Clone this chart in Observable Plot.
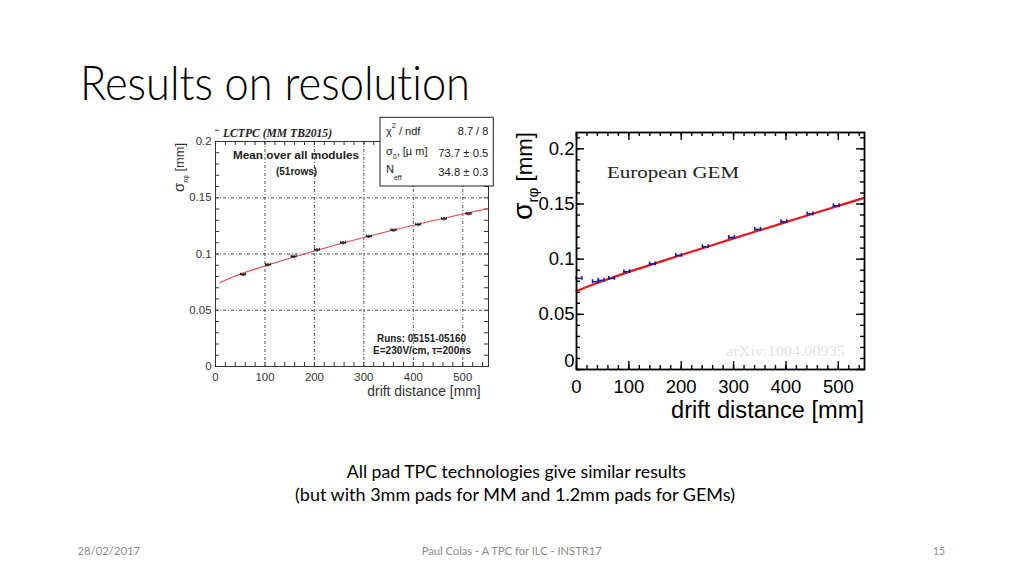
<!DOCTYPE html>
<html><head><meta charset="utf-8">
<script src="https://cdn.jsdelivr.net/npm/d3@7"></script>
<script src="https://cdn.jsdelivr.net/npm/@observablehq/plot@0.6"></script>
<style>
html,body{margin:0;padding:0;background:#fff;}
#slide{position:relative;width:1024px;height:576px;overflow:hidden;background:#fff;}
#left{position:absolute;left:160px;top:110px;}
#right{position:absolute;left:500px;top:120px;}
#overlay{position:absolute;left:0;top:0;font-variant-ligatures:none;}
</style></head><body>
<div id="slide"><div id="left"></div><div id="right"></div><svg id="overlay" width="1024" height="576"></svg></div>
<script>
// ---------- Left panel: LCTPC Micromegas (MM TB2015) ----------
const mmDrift    = [56, 106, 158, 205, 258, 310, 360, 410, 462, 512];
const mmSigma    = [0.0818, 0.0904, 0.0978, 0.1037, 0.1100, 0.1156, 0.1212, 0.1262, 0.1313, 0.1357];
const mmDriftErr = [5, 5, 5, 5, 5, 5, 5, 5, 5, 5];
const mmSigmaErr = [0.0012, 0.0012, 0.0012, 0.0012, 0.0012, 0.0012, 0.0012, 0.0012, 0.0012, 0.0012];
const mmFitDrift = [9, 50, 100, 150, 200, 250, 300, 350, 400, 450, 500, 552];
const mmFitSigma = [0.0746, 0.0822, 0.0893, 0.0962, 0.1027, 0.1089, 0.1147, 0.1203, 0.1256, 0.1307, 0.1356, 0.1405];
const mmTicksX   = [0, 100, 200, 300, 400, 500];
const mmTicksY   = [0, 0.05, 0.1, 0.15, 0.2];
const mmGridX    = [100, 200, 300, 400, 500];
const mmGridY    = [0.05, 0.1, 0.15];

// ---------- Right panel: European GEM ----------
const gemDrift    = [5, 36, 47, 67, 96, 145, 195, 246, 296, 346, 396, 446, 496];
const gemSigma    = [0.0826, 0.0796, 0.0808, 0.0826, 0.0887, 0.0957, 0.1034, 0.1113, 0.1197, 0.1270, 0.1340, 0.1410, 0.1484];
const gemDriftErr = [5.5, 5.5, 5.5, 5.5, 5.5, 5.5, 5.5, 5.5, 5.5, 5.5, 5.5, 5.5, 5.5];
const gemSigmaErr = [0.0018, 0.0018, 0.0018, 0.0018, 0.0018, 0.0018, 0.0018, 0.0018, 0.0018, 0.0018, 0.0018, 0.0018, 0.0018];
const gemFitDrift = [0, 50, 100, 150, 200, 250, 300, 350, 400, 450, 500, 548];
const gemFitSigma = [0.0712, 0.0802, 0.0885, 0.0962, 0.1038, 0.1113, 0.1188, 0.1262, 0.1336, 0.1410, 0.1483, 0.1554];
const gemTicksX   = [0, 100, 200, 300, 400, 500];
const gemTicksY   = [0.05, 0.1, 0.15, 0.2];
const gemTickZero = [0];

const minorXTicks = d3.range(0, 560, 20);
const minorYTicks = d3.range(0, 0.2151, 0.01);

const mmPts  = mmDrift.map((x, i) => ({x, y: mmSigma[i], ex: mmDriftErr[i], ey: mmSigmaErr[i]}));
const mmFit  = mmFitDrift.map((x, i) => ({x, y: mmFitSigma[i]}));
const gemPts = gemDrift.map((x, i) => ({x, y: gemSigma[i], ex: gemDriftErr[i], ey: gemSigmaErr[i]}));
const gemFit = gemFitDrift.map((x, i) => ({x, y: gemFitSigma[i]}));

function frameTicks(xs, ys, plotW, plotH, len, st) {
  return [
    Plot.ruleX(xs, {x: d => d, insetTop: plotH - len, ...st}),
    Plot.ruleX(xs, {x: d => d, insetBottom: plotH - len, ...st}),
    Plot.ruleY(ys, {y: d => d, insetRight: plotW - len, ...st}),
    Plot.ruleY(ys, {y: d => d, insetLeft: plotW - len, ...st})
  ];
}

// Left plot
{
  const W = 340, H = 300, mL = 55, mR = 12, mT = 31, mB = 44;
  const pW = W - mL - mR, pH = H - mT - mB;
  const grid = {stroke: "#444", strokeWidth: 0.9, strokeDasharray: "3 2 1 2"};
  const tk = {stroke: "#333", strokeWidth: 1};
  const p = Plot.plot({
    width: W, height: H, marginLeft: mL, marginRight: mR, marginTop: mT, marginBottom: mB,
    x: {domain: [0, 552]}, y: {domain: [0, 0.2]},
    style: {fontFamily: "'Liberation Sans', Arial, sans-serif", fontSize: "11.4px", color: "#333", background: "none", overflow: "visible"},
    marks: [
      Plot.ruleX(mmGridX, {x: d => d, ...grid}),
      Plot.ruleY(mmGridY, {y: d => d, ...grid}),
      ...frameTicks(minorXTicks, minorYTicks, pW, pH, 4, tk),
      Plot.line(mmFit, {x: "x", y: "y", stroke: "#e8474a", strokeWidth: 1.1, curve: "monotone-x"}),
      Plot.ruleY(mmPts, {y: "y", x1: d => d.x - d.ex, x2: d => d.x + d.ex, stroke: "#111", strokeWidth: 1}),
      Plot.ruleX(mmPts, {x: d => d.x - d.ex, y1: d => d.y - d.ey, y2: d => d.y + d.ey, stroke: "#111", strokeWidth: 1}),
      Plot.ruleX(mmPts, {x: d => d.x + d.ex, y1: d => d.y - d.ey, y2: d => d.y + d.ey, stroke: "#111", strokeWidth: 1}),
      Plot.dot(mmPts, {x: "x", y: "y", r: 1.3, stroke: "#111", strokeWidth: 0.8, fill: "none"}),
      Plot.frame({stroke: "#333", strokeWidth: 1}),
      Plot.axisX({ticks: mmTicksX, tickSize: 0, tickPadding: 6, tickFormat: d => String(d), label: null}),
      Plot.axisY({ticks: mmTicksY, tickSize: 0, tickPadding: 4, tickFormat: d => String(d), label: null})
    ]
  });
  document.getElementById("left").appendChild(p);
}

// Right plot
{
  const W = 370, H = 310, mL = 76, mR = 6, mT = 12, mB = 61;
  const pW = W - mL - mR, pH = H - mT - mB;
  const tk = {stroke: "#000", strokeWidth: 1.4};
  const majX = gemTicksX, majY = [0, ...gemTicksY];
  const p = Plot.plot({
    width: W, height: H, marginLeft: mL, marginRight: mR, marginTop: mT, marginBottom: mB,
    x: {domain: [0, 550]}, y: {domain: [0, 0.2148]},
    style: {fontFamily: "'Liberation Sans', Arial, sans-serif", fontSize: "18.5px", color: "#000", background: "none", overflow: "visible"},
    marks: [
      ...frameTicks(minorXTicks, minorYTicks, pW, pH, 4, tk),
      ...frameTicks(majX, majY, pW, pH, 8, tk),
      Plot.line(gemFit, {x: "x", y: "y", stroke: "#e8141c", strokeWidth: 2.2, curve: "monotone-x"}),
      Plot.ruleY(gemPts, {y: "y", x1: d => d.x - d.ex, x2: d => d.x + d.ex, stroke: "#1a1a9e", strokeWidth: 1.5}),
      Plot.ruleX(gemPts, {x: d => d.x - d.ex, y1: d => d.y - d.ey, y2: d => d.y + d.ey, stroke: "#1a1a9e", strokeWidth: 1.5}),
      Plot.ruleX(gemPts, {x: d => d.x + d.ex, y1: d => d.y - d.ey, y2: d => d.y + d.ey, stroke: "#1a1a9e", strokeWidth: 1.5}),
      Plot.frame({stroke: "#000", strokeWidth: 1.8}),
      Plot.axisX({ticks: gemTicksX, tickSize: 0, tickPadding: 10, tickFormat: d => String(d), label: null}),
      Plot.axisY({ticks: gemTicksY, tickSize: 0, tickPadding: 2, tickFormat: d => String(d), label: null}),
      Plot.axisY({ticks: gemTickZero, tickSize: 0, tickPadding: 2, dy: -8, tickFormat: d => String(d), label: null})
    ]
  });
  document.getElementById("right").appendChild(p);
}

// ---------- Text overlay ----------
const ov = d3.select("#overlay");
function label(x, y, parts, o) {
  const t = ov.append("text")
    .attr("x", 0).attr("y", 0)
    .attr("transform", `translate(${x},${y})` + (o.rotate ? ` rotate(${o.rotate})` : ""))
    .attr("font-family", o.family).attr("font-size", o.size)
    .attr("font-weight", o.weight || "normal").attr("font-style", o.style || "normal")
    .attr("fill", o.fill || "#000").attr("text-anchor", o.anchor || "start");
  if (o.len) t.attr("textLength", o.len).attr("lengthAdjust", "spacingAndGlyphs");
  let cur = 0;
  for (const p of parts) {
    const [s, po] = typeof p === "string" ? [p, {}] : p;
    const shift = po.shift || 0;
    const ts = t.append("tspan").text(s).attr("dy", shift - cur);
    if (po.size) ts.attr("font-size", po.size);
    cur = shift;
  }
  return t;
}
const SANS = "'Liberation Sans', Arial, sans-serif";
const SERIF = "'Liberation Serif', 'Times New Roman', serif";
const SLIDE = "Lato, 'Open Sans', sans-serif";

// slide texts
label(80, 100, ["Results on resolution"], {family: SLIDE, size: 47, weight: 300, len: 390});
label(516.3, 477.5, ["All pad TPC technologies give similar results"], {family: SLIDE, size: 17, anchor: "middle", len: 339});
label(515, 500.5, ["(but with 3mm pads for MM and 1.2mm pads for GEMs)"], {family: SLIDE, size: 17, anchor: "middle", len: 440});
label(77.5, 555, ["28/02/2017"], {family: SLIDE, size: 12, fill: "#8b8b8b", len: 62.5});
label(511.7, 555, ["Paul Colas - A TPC for ILC - INSTR17"], {family: SLIDE, size: 12, fill: "#8b8b8b", anchor: "middle", len: 180});
label(945, 555, ["15"], {family: SLIDE, size: 12, fill: "#8b8b8b", anchor: "end", len: 12});

// left plot annotations
label(223, 136.5, ["LCTPC (MM TB2015)"], {family: SERIF, size: 12, weight: "bold", style: "italic", fill: "#222", len: 109});
label(233, 159.3, ["Mean over all modules"], {family: SANS, size: 11.7, weight: "bold", fill: "#222", len: 126});
label(276, 175, ["(51rows)"], {family: SANS, size: 10, weight: "bold", fill: "#222", len: 41});
label(377, 342.3, ["Runs: 05151-05160"], {family: SANS, size: 10, weight: "bold", fill: "#222", len: 89});
label(373, 353.5, ["E=230V/cm,  τ=200ns"], {family: SANS, size: 10, weight: "bold", fill: "#222", len: 98});
label(480.7, 395.7, ["drift distance [mm]"], {family: SANS, size: 14, fill: "#333", anchor: "end", len: 113.4});
label(183.5, 192, [["σ", {size: 15}], ["rφ", {size: 8, shift: 4}], [" [mm]", {size: 13, shift: 0}]], {family: SANS, size: 13, fill: "#333", rotate: -90, len: 49});

// stats box
ov.append("rect").attr("x", 380).attr("y", 117.3).attr("width", 113.3).attr("height", 68.7)
  .attr("fill", "#fff").attr("stroke", "#222").attr("stroke-width", 1);
label(386, 135, ["χ", ["2", {size: 7.5, shift: -7}], [" / ndf", {shift: 0}]], {family: SANS, size: 11, fill: "#222"});
label(488.3, 135, ["8.7 / 8"], {family: SANS, size: 11, fill: "#222", anchor: "end"});
label(386, 155, ["σ", ["0", {size: 7, shift: 4}], [", [µ m]", {shift: 0}]], {family: SANS, size: 11, fill: "#222"});
label(488.3, 156.5, ["73.7 ± 0.5"], {family: SANS, size: 11, fill: "#222", anchor: "end", len: 50});
label(386, 173.3, ["N", ["eff", {size: 7, shift: 7}]], {family: SANS, size: 11, fill: "#222"});
label(488.3, 175.7, ["34.8 ± 0.3"], {family: SANS, size: 11, fill: "#222", anchor: "end", len: 50});

// right plot annotations
label(607, 177.5, ["European GEM"], {family: SERIF, size: 16, fill: "#222", len: 132});
label(726, 356, ["arXiv:1004.00935"], {family: SERIF, size: 14, fill: "#e4e4e4", len: 119});
label(864, 417.5, ["drift distance [mm]"], {family: SANS, size: 23, fill: "#000", anchor: "end", len: 193});
label(531.5, 220, [["σ", {size: 28}], ["rφ", {size: 15, shift: 6}], [" [mm]", {size: 22, shift: 0}]], {family: SANS, size: 22, fill: "#000", rotate: -90, len: 88});
</script>
</body></html>
